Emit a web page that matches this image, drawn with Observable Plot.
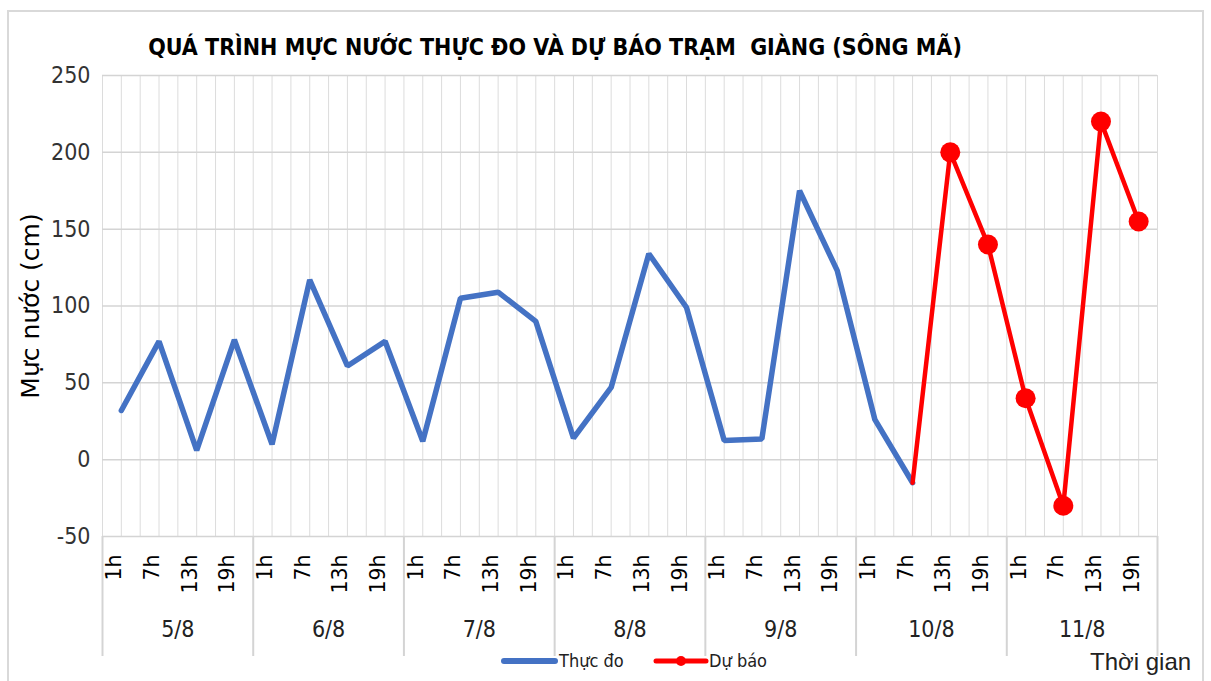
<!DOCTYPE html>
<html>
<head>
<meta charset="utf-8">
<script src="https://cdn.jsdelivr.net/npm/d3@7"></script>
<script src="https://cdn.jsdelivr.net/npm/@observablehq/plot@0.6"></script>
<style>
  html, body { margin: 0; padding: 0; background: #fff; }
  #wrap { position: relative; width: 1211px; height: 681px; overflow: hidden; font-family: "Liberation Sans", sans-serif; }
  #frame { position: absolute; left: 7px; top: 10px; width: 1197px; height: 700px; border: 2px solid #d9d9d9; box-sizing: border-box; }
  #chart { position: absolute; left: 0; top: 0; }
  #title { position: absolute; left: 0; width: 1110px; top: 34px; text-align: center; font-family: "Liberation Sans Narrow", "DejaVu Sans Condensed", sans-serif; font-weight: bold; font-size: 23px; color: #000; white-space: pre; }
  .leg { position: absolute; font-family: "Liberation Sans Narrow", "DejaVu Sans Condensed", sans-serif; font-size: 18px; color: #222; }
  #xtitle { position: absolute; left: 1090px; top: 648px; font-family: "Liberation Sans Narrow", sans-serif; font-size: 24px; color: #222; }
</style>
</head>
<body>
<div id="wrap">
  <div id="frame"></div>
  <div id="chart"></div>
  <div id="title"></div>
  <div id="legend"></div>
  <div id="xtitle"></div>
</div>
<script>
const titleText = "QUÁ TRÌNH MỰC NƯỚC THỰC ĐO VÀ DỰ BÁO TRẠM  GIÀNG (SÔNG MÃ)";
const yTitle = "Mực nước (cm)";
const xTitle = "Thời gian";
const days = ["5/8", "6/8", "7/8", "8/8", "9/8", "10/8", "11/8"];
const hours = ["1h", "7h", "13h", "19h"];
const seriesNames = ["Thực đo", "Dự báo"];
const observed = [32, 77, 6, 78, 10, 117, 61, 77, 12, 105, 109, 90, 14, 47, 134, 99, 12.5, 13.5, 175, 123, 26, -15];
const forecast = [200, 140, 40, -30, 220, 155];
const yTicks = [-50, 0, 50, 100, 150, 200, 250];
const colors = {obs: "#4472c4", fc: "#ff0000"};

const cats = days.flatMap((d, di) => hours.map((h, hi) => ({day: d, hour: h, i: di * hours.length + hi})));
const obsData = observed.map((v, i) => ({i, v}));
const fcStart = observed.length - 1;
const fcLine = [{i: fcStart, v: observed[fcStart]}, ...forecast.map((v, k) => ({i: fcStart + 1 + k, v}))];
const fcDots = fcLine.slice(1);
const n = cats.length;
const halfGrid = d3.range(-0.5, n, 0.5);
const dayBounds = d3.range(0, days.length + 1).map(k => k * hours.length - 0.5);
const dayCenters = days.map((d, k) => ({day: d, x: k * hours.length + (hours.length - 1) / 2}));

const fontMain = "'Liberation Sans Narrow', 'DejaVu Sans Condensed', sans-serif";
const fontWide = "'DejaVu Sans', sans-serif";

const plot = Plot.plot({
  width: 1211,
  height: 681,
  marginTop: 75,
  marginBottom: 145,
  marginLeft: 102,
  marginRight: 54,
  style: {fontFamily: fontMain, fontSize: "22px", color: "#404040", background: "transparent"},
  x: {domain: [-0.5, n - 0.5], axis: null},
  y: {domain: [-50, 250], axis: null},
  marks: [
    Plot.ruleX(halfGrid, {stroke: "#dcdcdc", strokeWidth: 1}),
    Plot.ruleY(yTicks, {stroke: "#d4d4d4", strokeWidth: 1.5}),
    Plot.ruleX(dayBounds, {stroke: "#d4d4d4", strokeWidth: 2, insetTop: 461, insetBottom: -120}),
    Plot.axisY({ticks: yTicks, tickSize: 0, tickPadding: 12, fontSize: 23, label: null, fill: "#333", tickFormat: d => String(d)}),
    Plot.text([yTitle], {frameAnchor: "left", textAnchor: "middle", dx: -72, rotate: -90, fontSize: 25, fontFamily: fontWide, fill: "#000", text: d => d}),
    Plot.text(cats, {x: "i", text: "hour", frameAnchor: "bottom", rotate: -90, textAnchor: "end", dy: 18, fontSize: 20.5, fontFamily: fontWide, fill: "#000"}),
    Plot.text(dayCenters, {x: "x", text: "day", frameAnchor: "bottom", dy: 100, fontSize: 23, fill: "#222"}),
    Plot.line(obsData, {x: "i", y: "v", stroke: colors.obs, strokeWidth: 5.5, strokeLinejoin: "miter", strokeLinecap: "round"}),
    Plot.line(fcLine, {x: "i", y: "v", stroke: colors.fc, strokeWidth: 4.5}),
    Plot.dot(fcDots, {x: "i", y: "v", r: 10, fill: colors.fc, stroke: "none"})
  ]
});
document.getElementById("chart").appendChild(plot);
document.getElementById("title").textContent = titleText;
document.getElementById("xtitle").textContent = xTitle;

// legend
const leg = document.getElementById("legend");
leg.innerHTML = `
  <svg style="position:absolute;left:500px;top:650px" width="220" height="24">
    <line x1="4" y1="11" x2="55" y2="11" stroke="${colors.obs}" stroke-width="6" stroke-linecap="round"/>
    <line x1="156" y1="11" x2="206" y2="11" stroke="${colors.fc}" stroke-width="5" stroke-linecap="round"/>
    <circle cx="181" cy="11" r="5" fill="${colors.fc}"/>
  </svg>
  <div class="leg" style="left:559px;top:650px">${seriesNames[0]}</div>
  <div class="leg" style="left:709px;top:650px">${seriesNames[1]}</div>`;
</script>
</body>
</html>
